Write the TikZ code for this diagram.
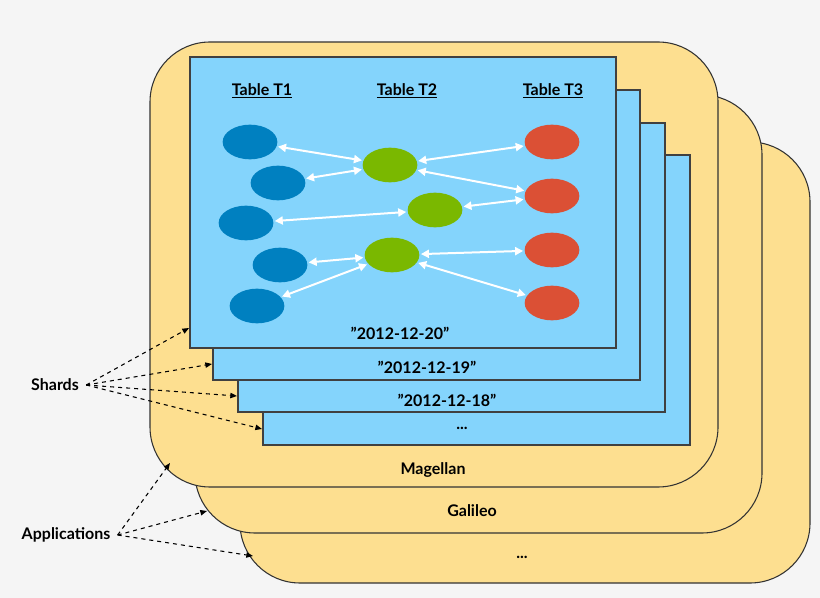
\documentclass[tikz,border=0pt]{standalone}
\usepackage{fontspec}
\setmainfont{Lato}
\usetikzlibrary{arrows.meta,shapes.geometric}
\definecolor{bg}{HTML}{F5F5F5}
\definecolor{app}{HTML}{FDDF90}
\definecolor{shard}{HTML}{84D4FC}
\definecolor{cb}{HTML}{0080C0}
\definecolor{cg}{HTML}{7AB800}
\definecolor{cr}{HTML}{DB5035}
\begin{document}
\begin{tikzpicture}[x=0.75pt,y=-0.75pt,
  appbox/.style={fill=app,draw=black!80,line width=0.8pt,rounded corners=45pt},
  shardbox/.style={fill=shard,draw=black!75,line width=0.8pt},
  lbl/.style={font=\fontsize{12}{14}\selectfont\bfseries},
  hdr/.style={font=\fontsize{12}{14}\selectfont\bfseries},
  ell/.style={ellipse,minimum width=41pt,minimum height=26pt,inner sep=0pt},
  link/.style={white,line width=1.5pt,{Triangle[width=6pt,length=6pt]}-{Triangle[width=6pt,length=6pt]},shorten <=1pt,shorten >=1pt},
  ptr/.style={dashed,line width=0.8pt,-{Triangle[width=4pt,length=5pt]}}]
\fill[bg] (0,0) rectangle (820,598);
\useasboundingbox (0,0) rectangle (820,598);
\draw[appbox] (240,142) rectangle (810,583);
\draw[appbox] (195,95) rectangle (762,533);
\draw[appbox] (150,42) rectangle (718,487);
\node[lbl] (a3) at (522,557) {...};
\node[lbl] (a2) at (472,511) {Galileo};
\node[lbl] (a1) at (433,470) {Magellan};
\draw[shardbox] (263,155) rectangle (690,445);
\draw[shardbox] (238,123) rectangle (665,412);
\draw[shardbox] (213,90) rectangle (640,380);
\draw[shardbox] (190,57) rectangle (616,348);
\node[lbl] (s4) at (462,428) {...};
\node[lbl] (s3) at (447,400) {"2012-12-18"};
\node[lbl] (s2) at (427,367) {"2012-12-19"};
\node[lbl] (s1) at (400,333) {"2012-12-20"};
\node[hdr] (h1) at (262,91) {\underline{Table T1}};
\node[hdr] (h2) at (407,91) {\underline{Table T2}};
\node[hdr] (h3) at (553,91) {\underline{Table T3}};
\foreach \n/\x/\y in {b1/250/142,b2/278/183,b3/246/223,b4/280/265,b5/257/306}
  \node[ell,fill=cb] (\n) at (\x,\y) {};
\foreach \n/\x/\y in {g1/390/165,g2/435/210,g3/392/255}
  \node[ell,fill=cg] (\n) at (\x,\y) {};
\foreach \n/\x/\y in {r1/552/142,r2/552/196,r3/552/250,r4/552/303}
  \node[ell,fill=cr] (\n) at (\x,\y) {};
\draw[link] (b1) -- (g1);
\draw[link] (b2) -- (g1);
\draw[link] (b3) -- (g2);
\draw[link] (b4) -- (g3);
\draw[link] (b5) -- (g3);
\draw[link] (g1) -- (r1);
\draw[link] (g1) -- (r2);
\draw[link] (g2) -- (r2);
\draw[link] (g3) -- (r3);
\draw[link] (g3) -- (r4);
\node[lbl] (shards) at (55,385) {Shards};
\node[lbl] (apps) at (66,535) {Applications};
\coordinate (p1) at (189,328);
\coordinate (p2) at (212,364);
\coordinate (p3) at (237,396);
\coordinate (p4) at (262,429);
\coordinate (q1) at (170,463);
\coordinate (q2) at (207,511);
\coordinate (q3) at (253,556);
\foreach \p in {p1,p2,p3,p4} \draw[ptr] ([xshift=2pt]shards.east) -- (\p);
\foreach \q in {q1,q2,q3} \draw[ptr] ([xshift=2pt]apps.east) -- (\q);
\end{tikzpicture}
\end{document}
